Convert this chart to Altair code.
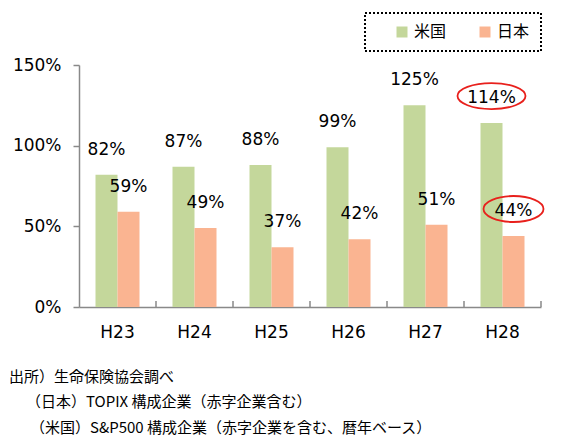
import altair as alt
import pandas as pd

years = ["H23", "H24", "H25", "H26", "H27", "H28"]
us_vals = [82, 87, 88, 99, 125, 114]
jp_vals = [59, 49, 37, 42, 51, 44]
series = ["米国", "日本"]
colors = ["#C4D79B", "#FAB491"]
highlights = [("H28", "米国"), ("H28", "日本")]
notes = [
    "出所）生命保険協会調べ",
    "（日本）TOPIX 構成企業（赤字企業含む）",
    "（米国）S&P500 構成企業（赤字企業を含む、暦年ベース）",
]

rows = []
for y, u, j in zip(years, us_vals, jp_vals):
    rows.append({"year": y, "series": "米国", "value": u, "label": f"{u}%"})
    rows.append({"year": y, "series": "日本", "value": j, "label": f"{j}%"})
df = pd.DataFrame(rows)
hl = df[[(r.year, r.series) in highlights for r in df.itertuples()]].copy()
hl["ring"] = ["wide", "narrow"]

W, H = 462, 242
NUM_FONT = "DejaVu Sans"
JP_FONT = "Noto Sans CJK JP"
GRAY = "#898989"

x = alt.X("year:N", sort=years, title=None,
          scale=alt.Scale(paddingInner=0, paddingOuter=0),
          axis=alt.Axis(ticks=False, labelPadding=17, labelFontSize=17,
                        labelFont=NUM_FONT, labelColor="#000",
                        domainColor=GRAY, domainWidth=1.5, labelAngle=0))
xo = alt.XOffset("series:N", sort=series,
                 scale=alt.Scale(paddingOuter=0.75, paddingInner=0))
y = alt.Y("value:Q", title=None,
          scale=alt.Scale(domain=[0, 150], nice=False),
          axis=alt.Axis(values=[0, 50, 100, 150],
                        labelExpr="datum.value + '%'",
                        grid=False, tickSize=6, tickColor=GRAY, tickWidth=1.5,
                        domainColor=GRAY, domainWidth=1.5,
                        labelPadding=12, labelFontSize=17,
                        labelFont=NUM_FONT, labelColor="#000"))

base = alt.Chart(df).encode(x=x, xOffset=xo, y=y)

bars = base.mark_bar().encode(
    color=alt.Color("series:N", sort=series,
                    scale=alt.Scale(domain=series, range=colors),
                    legend=alt.Legend(title=None, orient="none",
                                      legendX=286, legendY=-52,
                                      direction="horizontal",
                                      symbolType="square", symbolSize=121,
                                      symbolStrokeWidth=0, symbolOffset=18,
                                      labelFont=JP_FONT, labelFontSize=16,
                                      labelColor="#000", labelOffset=4,
                                      labelExpr="datum.label + '\u3000'",
                                      columnPadding=12, padding=11))
)

labels = base.mark_text(dy=-25, baseline="middle", font=NUM_FONT,
                        fontSize=17, color="#000").encode(text="label:N")

ellipse_wide = "M-1,0 A1,0.382 0 1,1 1,0 A1,0.382 0 1,1 -1,0 Z"
ellipse_narrow = "M-1,0 A1,0.433 0 1,1 1,0 A1,0.433 0 1,1 -1,0 Z"
rings = alt.Chart(hl).mark_point(filled=False, color="#E8201C",
                                 strokeWidth=1.8, yOffset=-27, opacity=1).encode(
    x=x, xOffset=xo, y=y,
    shape=alt.Shape("ring:N", legend=None,
                    scale=alt.Scale(domain=["wide", "narrow"],
                                    range=[ellipse_wide, ellipse_narrow])),
    size=alt.Size("ring:N", legend=None,
                  scale=alt.Scale(domain=["wide", "narrow"], range=[4624, 3600])),
)

ticks = alt.Chart(pd.DataFrame({"year": years})).mark_rule(
    color=GRAY, strokeWidth=1.5).encode(
    x=alt.X("year:N", sort=years, bandPosition=1),
    y=alt.value(H - 6), y2=alt.value(H))

note_pos = [(-70, 312), (-53, 337), (-49, 363)]
note_layers = []
for text, (px, py) in zip(notes, note_pos):
    note_layers.append(
        alt.Chart(pd.DataFrame({"t": [text]})).mark_text(
            align="left", baseline="middle", font=JP_FONT, fontSize=15,
            color="#000").encode(text="t:N", x=alt.value(px), y=alt.value(py)))

chart = alt.layer(bars, ticks, labels, rings, *note_layers).properties(
    width=W, height=H,
    autosize=alt.AutoSizeParams(type="none"),
    padding={"left": 71, "top": 57, "right": 12, "bottom": 135},
).configure_view(strokeWidth=0).configure_legend(
    strokeColor="#000", strokeDash=[2, 2], strokeWidth=2
)

chart.save("out.html", embed_options={"renderer": "svg", "actions": False})
